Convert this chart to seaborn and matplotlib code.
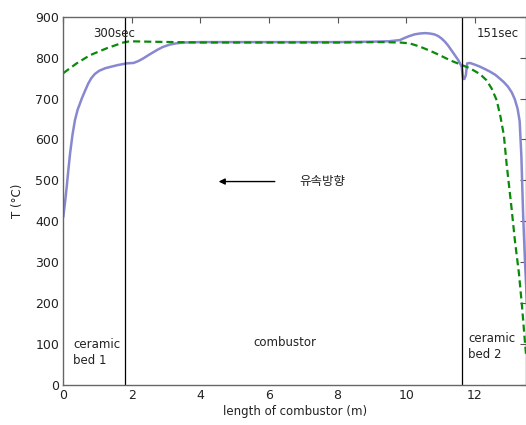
import matplotlib
matplotlib.use("Agg")
import matplotlib.pyplot as plt
import seaborn as sns
import pandas as pd

# ---- data ----
x_151 = [0, 0.05, 0.1, 0.15, 0.2, 0.27, 0.34, 0.42, 0.54, 0.63, 0.73, 0.82, 0.92, 1.05, 1.22, 1.4,
         1.6, 1.85, 2.05, 2.2, 2.33, 2.5, 2.72, 2.9, 3.11, 3.3, 3.5, 4.0,
         5, 6, 7, 8, 9, 9.5, 9.82, 9.95, 10.1, 10.25, 10.4, 10.55, 10.69, 10.82, 10.93, 11.03, 11.13,
         11.22, 11.32, 11.42, 11.52, 11.62, 11.66,
         11.70, 11.74, 11.78, 11.86, 12.0, 12.15, 12.3, 12.44, 12.6, 12.73, 12.85, 12.97, 13.08, 13.17,
         13.25, 13.31, 13.36, 13.41, 13.46, 13.55]
T_151 = [410, 445, 484, 527, 567, 612, 647, 673, 700, 718, 737, 750, 760, 768, 774, 778,
         782, 786, 787, 792, 798, 807, 818, 826, 832, 835, 837, 838,
         838, 838, 838, 838, 839, 840, 843, 848, 853, 857, 859, 860, 859, 857, 853, 847, 839,
         830, 818, 806, 794, 778, 748,
         748, 757, 786, 787, 783, 778, 772, 766, 758, 749, 740, 729, 715, 698,
         675, 645, 560, 420, 313, 150]

x_300 = [0, 0.39, 0.78, 1.27, 1.75, 1.94, 2.5, 4, 6, 8, 9.24, 9.82, 10.1, 10.4, 10.69, 10.98,
         11.27, 11.62, 11.86, 12.15, 12.34, 12.49, 12.64, 12.75, 12.85, 12.93, 13.07, 13.17,
         13.29, 13.38, 13.46, 13.5]
T_300 = [762, 786, 806, 823, 837, 840, 839, 837, 837, 837, 838, 837, 835, 827, 817, 806,
         794, 782, 774, 760, 745, 725, 696, 656, 610, 540, 435, 354,
         272, 191, 109, 70]

bed_edges = [1.80, 11.62]
x_ticks = [0, 2, 4, 6, 8, 10, 12]
y_ticks = [0, 100, 200, 300, 400, 500, 600, 700, 800, 900]

sns.set_style("white")
plt.rcParams['font.family'] = ['DejaVu Sans', 'Noto Sans CJK KR']

fig = plt.figure(figsize=(5.26, 4.25), dpi=100)
ax = fig.add_axes([0.1203, 0.0946, 0.880, 0.866])

df151 = pd.DataFrame({"x": x_151, "T": T_151})
df300 = pd.DataFrame({"x": x_300, "T": T_300})

sns.lineplot(data=df151, x="x", y="T", ax=ax, color="#8888d0", linewidth=1.8, sort=False)
sns.lineplot(data=df300, x="x", y="T", ax=ax, color="#0a8a0a", linewidth=1.6, sort=False)
ax.lines[-1].set_dashes((3.2, 1.8))

for b in bed_edges:
    ax.axvline(b, color="black", linewidth=0.9)

ax.set_xlim(0, 13.5)
ax.set_ylim(0, 900)
ax.set_xticks(x_ticks)
ax.set_yticks(y_ticks)
ax.tick_params(direction="in", length=4, width=0.8, colors="#555555", labelcolor="#222222",
               labelsize=9, top=True, right=True, pad=3)
for s in ["left", "bottom", "top", "right"]:
    ax.spines[s].set_color("#666666")
    ax.spines[s].set_linewidth(1.0)

ax.set_xlabel("length of combustor (m)", fontsize=8.5, color="#222222", labelpad=2)
ax.set_ylabel("T (°C)", fontsize=8.5, color="#222222", labelpad=8)

tc = "#222222"
ax.text(0.87, 860, "300sec", fontsize=8.5, color=tc, va="center", ha="left")
ax.text(12.05, 858, "151sec", fontsize=8.5, color=tc, va="center", ha="left")
ax.text(0.28, 80, "ceramic\nbed 1", fontsize=8.5, color=tc, va="center", ha="left", linespacing=1.3)
ax.text(6.46, 104, "combustor", fontsize=8.5, color=tc, va="center", ha="center")
ax.text(11.81, 94, "ceramic\nbed 2", fontsize=8.5, color=tc, va="center", ha="left", linespacing=1.3)
ax.annotate("", xy=(4.45, 497), xytext=(6.25, 497),
            arrowprops=dict(arrowstyle="-|>", color="black", lw=1.0, mutation_scale=9))
ax.text(6.9, 497, "유속방향", fontsize=9, color=tc, va="center", ha="left",
        family=['Noto Sans CJK KR', 'DejaVu Sans'])

fig.savefig("out.png", dpi=100)
